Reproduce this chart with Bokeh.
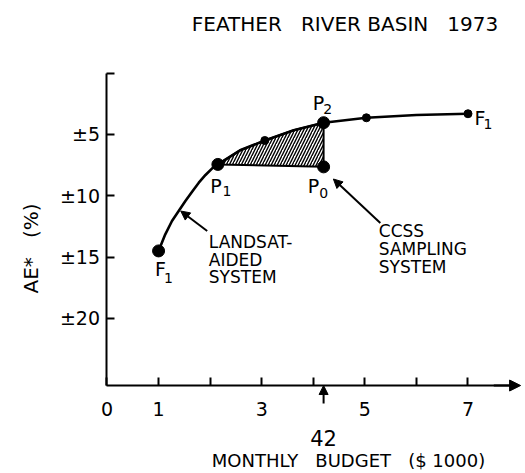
import math
from bokeh.plotting import figure
from bokeh.models import Range1d, FixedTicker, Label, Arrow, NormalHead
from bokeh.embed import file_html
from bokeh.resources import INLINE

# ---------------- data ----------------
curve_x = [1.0, 1.13, 1.26, 1.39, 1.52, 1.65, 1.78, 1.91, 2.04, 2.15,
           2.58, 3.06, 3.62, 4.2, 5.03, 6.0, 7.0]
curve_y = [14.5, 13.15, 12.06, 11.25, 10.43, 9.67, 8.94, 8.31, 7.77, 7.45,
           6.3, 5.5, 4.67, 4.05, 3.65, 3.42, 3.32]

key_names = ["F", "P", "P", "P"]
key_subs = ["1", "1", "2", "0"]
key_x = [1.0, 2.15, 4.2, 4.2]
key_y = [14.5, 7.45, 4.05, 7.65]

minor_x = [3.06, 5.03, 7.0]
minor_y = [5.5, 3.65, 3.32]

x_ticks = [0, 1, 2, 3, 4, 5, 6, 7]
x_tick_labels = ["0", "1", "", "3", "", "5", "", "7"]
y_ticks = [0, 5, 10, 15, 20]
y_tick_labels = ["", "±5", "±10", "±15", "±20"]
x_axis_at = 25.47   # value of AE* where the budget axis is drawn

budget_mark = 4.2
budget_mark_label = "42"

NB = "\u00a0"
title_text = "FEATHER" + NB * 3 + "RIVER BASIN" + NB * 3 + "1973"
x_label_text = "MONTHLY" + NB * 3 + "BUDGET" + NB * 3 + "($ 1000)"
y_label_text = "AE*" + NB * 3 + "(%)"
landsat_lines = ["LANDSAT-", "AIDED", "SYSTEM"]
ccss_lines = ["CCSS", "SAMPLING", "SYSTEM"]

# ---------------- figure ----------------
FONT = "DejaVu Sans"
X_END = 8.02

p = figure(width=525, height=473, output_backend="svg", toolbar_location=None,
           x_range=Range1d(-2.065, 8.115), y_range=Range1d(32.64, -5.909),
           min_border_left=0, min_border_right=0, min_border_top=0,
           min_border_bottom=0)
p.title.visible = False
p.outline_line_color = None
p.grid.visible = False
p.background_fill_color = "white"
p.border_fill_color = "white"

xa = p.xaxis[0]
xa.fixed_location = x_axis_at
xa.bounds = (0, 7.9)
xa.ticker = FixedTicker(ticks=x_ticks)
xa.major_label_overrides = {t: l for t, l in zip(x_ticks, x_tick_labels)}
xa.major_tick_in = 8
xa.major_tick_out = 0
xa.minor_tick_line_color = None
xa.axis_line_width = 2
xa.major_tick_line_width = 2
xa.major_label_text_font = FONT
xa.major_label_text_font_size = "19px"
xa.major_label_standoff = 16
xa.major_label_text_color = "black"

ya = p.yaxis[0]
ya.fixed_location = 0
ya.bounds = (0, x_axis_at)
ya.ticker = FixedTicker(ticks=y_ticks)
ya.major_label_overrides = {t: l for t, l in zip(y_ticks, y_tick_labels)}
ya.major_tick_in = 8
ya.major_tick_out = 0
ya.minor_tick_line_color = None
ya.axis_line_width = 2
ya.major_tick_line_width = 2
ya.major_label_text_font = FONT
ya.major_label_text_font_size = "19px"
ya.major_label_standoff = 7
ya.major_label_text_color = "black"

# hatched region between P1, curve, P2, P0
p1x, p1y = key_x[1], key_y[1]
p2x, p2y = key_x[2], key_y[2]
p0x, p0y = key_x[3], key_y[3]
hx = [p1x] + [cx for cx in curve_x if p1x < cx < p2x] + [p2x, p0x]
hy = [p1y] + [cy for cx, cy in zip(curve_x, curve_y) if p1x < cx < p2x] + [p2y, p0y]
p.patch(hx, hy, fill_color=None, line_color="black", line_width=2,
        hatch_pattern="/", hatch_color="black", hatch_scale=6, hatch_weight=1.4)

# curve
p.line(curve_x, curve_y, line_color="black", line_width=2.6, line_join="round")

# points
p.scatter(key_x, key_y, size=12, color="black")
p.scatter(minor_x, minor_y, size=8, color="black")

# point labels (letter + subscript), offsets in screen pixels (positive = up)
offsets = [((2, -18), (10, -27)),     # F1 left
           ((-2, -22), (9, -27)),     # P1
           ((-5, 20), (4, 14)),       # P2
           ((-10, -19), (0, -26))]    # P0
for name, sub, px, py, (mo, so) in zip(key_names, key_subs, key_x, key_y, offsets):
    p.add_layout(Label(x=px, y=py, x_offset=mo[0], y_offset=mo[1], text=name,
                       text_font=FONT, text_font_size="19px", text_align="center",
                       text_baseline="middle", text_color="black"))
    p.add_layout(Label(x=px, y=py, x_offset=so[0], y_offset=so[1], text=sub,
                       text_font=FONT, text_font_size="14px", text_align="center",
                       text_baseline="middle", text_color="black"))
# F1 right
p.add_layout(Label(x=minor_x[-1], y=minor_y[-1], x_offset=12, y_offset=-4, text="F",
                   text_font=FONT, text_font_size="19px", text_align="center",
                   text_baseline="middle", text_color="black"))
p.add_layout(Label(x=minor_x[-1], y=minor_y[-1], x_offset=20, y_offset=-10, text="1",
                   text_font=FONT, text_font_size="14px", text_align="center",
                   text_baseline="middle", text_color="black"))

# annotation arrows
def arrow(x0, y0, x1, y1, size=9):
    p.add_layout(Arrow(end=NormalHead(size=size, fill_color="black", line_color="black",
                                      line_width=1),
                       x_start=x0, y_start=y0, x_end=x1, y_end=y1,
                       line_color="black", line_width=2))

arrow(1.943, 12.88, 1.43, 11.25)                   # Landsat-aided
arrow(5.30, 12.22, 4.39, 8.64)                     # CCSS
arrow(budget_mark, 26.94, budget_mark, x_axis_at)  # 4.2 marker
arrow(7.5, x_axis_at, X_END, x_axis_at, size=11)   # x-axis end

for i, t in enumerate(landsat_lines):
    p.add_layout(Label(x=1.974, y=13.79 + i * 1.43, text=t, text_font=FONT,
                       text_font_size="17px", text_align="left", text_baseline="middle",
                       text_color="black"))
for i, t in enumerate(ccss_lines):
    p.add_layout(Label(x=5.27, y=12.84 + i * 1.5, text=t, text_font=FONT,
                       text_font_size="17px", text_align="left", text_baseline="middle",
                       text_color="black"))

# titles and axis names
p.add_layout(Label(x=4.615, y=-4.03, text=title_text, text_font=FONT,
                   text_font_size="20px", text_align="center", text_baseline="middle",
                   text_color="black"))
p.add_layout(Label(x=budget_mark, y=29.74, text=budget_mark_label, text_font=FONT,
                   text_font_size="21px", text_align="center", text_baseline="middle",
                   text_color="black"))
p.add_layout(Label(x=4.683, y=31.6, text=x_label_text, text_font=FONT,
                   text_font_size="18px", text_align="center", text_baseline="middle",
                   text_color="black"))
p.add_layout(Label(x=-1.483, y=14.30, text=y_label_text, text_font=FONT,
                   text_font_size="20px", text_align="center", text_baseline="middle",
                   angle=math.pi / 2, text_color="black"))

open("out.html", "w").write(file_html(p, INLINE))
